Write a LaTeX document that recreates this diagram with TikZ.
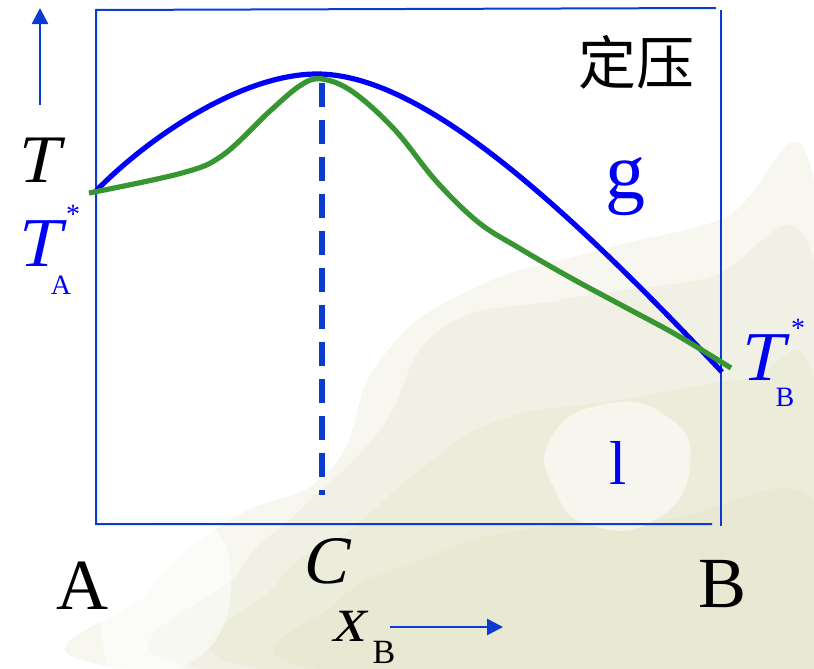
\documentclass[tikz,border=0pt]{standalone}
\usepackage{fontspec}
\setmainfont{Liberation Serif}
\newfontfamily\slantfont{Liberation Serif}[FakeSlant=0.22]
\newfontfamily\cjkfont{Noto Sans CJK SC}
\usetikzlibrary{arrows.meta}
\definecolor{boxblue}{RGB}{10,60,210}
\definecolor{curveblue}{RGB}{0,0,250}
\definecolor{curvegreen}{RGB}{55,150,50}
\definecolor{labelblue}{RGB}{0,0,245}
\definecolor{beige}{RGB}{218,218,185}
\begin{document}
\begin{tikzpicture}[x=0.5pt,y=-0.5pt,
  txt/.style={inner sep=0pt,outer sep=0pt},
  frame/.style={draw=boxblue,line width=1pt},
  axisarrow/.style={draw=boxblue,line width=1.3pt,-{Triangle[width=8pt,length=8pt]}},
  liquidus/.style={draw=curveblue,line width=2.6pt},
  vapor/.style={draw=curvegreen,line width=2.6pt},
  dashv/.style={draw=boxblue,line width=3pt,dash pattern=on 12pt off 6.5pt},
  blob/.style={fill=beige,draw=none}]
\useasboundingbox (0,0) rectangle (814,669);
% soft background
\begin{scope}[opacity=0.22]
\fill[blob] plot[smooth cycle,tension=0.8] coordinates {(130,669) (150,590) (230,520) (330,470) (380,360) (470,290) (600,250) (720,220) (814,180) (814,669)};
\fill[blob] plot[smooth cycle,tension=0.8] coordinates {(200,669) (240,570) (300,510) (380,430) (440,330) (560,300) (700,280) (814,260) (814,669)};
\fill[blob] plot[smooth cycle,tension=0.8] coordinates {(260,669) (280,580) (350,530) (420,470) (500,420) (620,400) (740,380) (814,380) (814,669)};
\fill[blob] plot[smooth cycle,tension=0.8] coordinates {(320,669) (340,600) (420,560) (520,530) (660,520) (814,500) (814,669)};
\end{scope}
\begin{scope}[opacity=0.55]
\fill[white] plot[smooth cycle,tension=0.9] coordinates {(550,440) (600,405) (665,415) (690,465) (655,520) (590,525) (555,490)};
\fill[white] plot[smooth cycle,tension=0.9] coordinates {(120,560) (200,520) (230,600) (180,669) (110,669)};
\end{scope}
% frame
\coordinate (tl) at (96,10);
\coordinate (tr) at (716,8);
\coordinate (bl) at (96,524);
\coordinate (br) at (712,524);
\coordinate (rt) at (721,10);
\coordinate (rb) at (721,526);
\draw[frame] (tr) -- (tl) -- (bl) -- (br);
\draw[frame] (rt) -- (rb);
% axis arrows
\coordinate (ya) at (40,105);
\coordinate (yb) at (40,8);
\draw[axisarrow] (ya) -- (yb);
\coordinate (xa) at (390,627);
\coordinate (xb) at (503,627);
\draw[axisarrow] (xa) -- (xb);
% dashed line at C
\coordinate (ctop) at (322,83);
\coordinate (cbot) at (322,495);
\draw[dashv] (ctop) -- (cbot);
% curves
\coordinate (lstart) at (95,192);
\coordinate (lpeak) at (317,74);
\coordinate (lend) at (722,372);
\draw[liquidus] (lstart) .. controls (145,140) and (240,74) .. (lpeak)
  .. controls (420,74) and (560,200) .. (lend);
\draw[vapor] plot[smooth,tension=0.6] coordinates {(89,193) (182,173) (223,155) (270,111) (301,85) (322,79) (353,92) (395,130) (436,181) (478,222) (519,248) (571,278) (623,306) (675,334) (731,368)};
% labels
\node[txt,font=\fontsize{34}{34}\selectfont\slantfont] (T) at (36,160) {T};
\node[txt,font=\fontsize{35}{35}\selectfont\slantfont,text=labelblue] (TA) at (37,244) {T};
\node[txt,font=\fontsize{14}{14}\selectfont,text=labelblue] (TAsub) at (61,285) {A};
\node[txt,font=\fontsize{14}{14}\selectfont,text=labelblue] (TAstar) at (73,214) {*};
\node[txt,font=\fontsize{35}{35}\selectfont\slantfont,text=labelblue] (TB) at (760,358) {T};
\node[txt,font=\fontsize{14}{14}\selectfont,text=labelblue] (TBsub) at (785,397) {B};
\node[txt,font=\fontsize{14}{14}\selectfont,text=labelblue] (TBstar) at (798,328) {*};
\node[txt,font=\fontsize{29}{29}\selectfont\cjkfont] (p) at (636,62) {定压};
\node[txt,font=\fontsize{40}{40}\selectfont,text=labelblue] (g) at (625,187) {g};
\node[txt,font=\fontsize{31}{31}\selectfont,text=labelblue] (l) at (618,463) {l};
\node[txt,font=\fontsize{36}{36}\selectfont] (A) at (82,586) {A};
\node[txt,font=\fontsize{36}{36}\selectfont] (B) at (723,584) {B};
\node[txt,font=\fontsize{34}{34}\selectfont\slantfont] (C) at (324,561) {C};
\node[txt,font=\fontsize{33}{33}\selectfont\slantfont] (x) at (348,626) {x};
\node[txt,font=\fontsize{17}{17}\selectfont] (xsub) at (384,652) {B};
\end{tikzpicture}
\end{document}
